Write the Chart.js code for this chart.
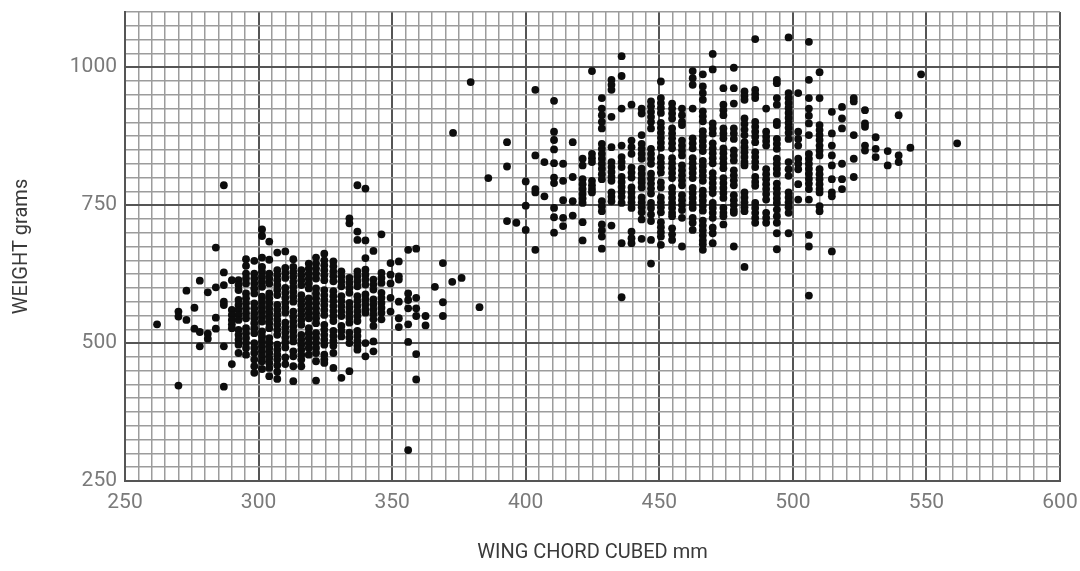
<!DOCTYPE html>
<html>
<head>
<meta charset="utf-8">
<title>Weight vs wing chord</title>
<script src="https://cdn.jsdelivr.net/npm/chart.js@4.4.1/dist/chart.umd.min.js"></script>
<style>
  body { margin: 0; background: #fff; }
  #wrap { width: 1080px; height: 571px; }
</style>
</head>
<body>
<div id="wrap"><canvas id="chart" width="1080" height="571"></canvas></div>
<script>
// tick labels shown on the axes
const xTickLabels = [250, 300, 350, 400, 450, 500, 550, 600];
const yTickLabels = [250, 500, 750, 1000];

// smaller birds: one chord value per column, weights
const smallChord = [262, 270, 273, 276, 278, 281, 284, 287, 290, 292.5, 295.3, 298.4, 301.3, 304, 307, 310, 313, 316, 318.8, 321.5, 324.6, 328, 331, 334, 337, 340, 343, 346, 349.4, 352.5, 356, 359, 362.5, 366, 369, 372.5, 376, 382.7];
const smallWeight = [
  [534],
  [557, 548, 423],
  [595, 542],
  [564, 526],
  [613, 520, 494],
  [592, 517, 508],
  [673, 601, 546, 526],
  [786, 628, 605, 575, 569, 494, 421],
  [614, 560, 551, 542, 534, 527, 462],
  [614, 605, 596, 578, 569, 560, 551, 542, 524, 515, 506, 497, 482],
  [652, 640, 626, 617, 608, 590, 581, 572, 563, 554, 545, 527, 518, 509, 500, 491, 479],
  [649, 626, 617, 608, 599, 590, 572, 563, 554, 545, 536, 527, 518, 500, 491, 482, 470, 458, 446],
  [706, 694, 655, 638, 629, 620, 611, 602, 584, 575, 566, 557, 548, 539, 521, 512, 503, 494, 485, 476, 467, 453],
  [684, 651, 626, 617, 608, 590, 581, 572, 563, 554, 545, 536, 527, 509, 500, 491, 482, 473, 464, 455, 440],
  [664, 632, 623, 614, 605, 596, 587, 569, 560, 551, 542, 533, 524, 515, 497, 488, 479, 470, 460, 448, 435],
  [666, 636, 627, 618, 600, 591, 582, 573, 564, 555, 537, 528, 519, 510, 501, 492, 474, 462],
  [652, 638, 629, 620, 611, 602, 593, 584, 575, 557, 548, 539, 530, 521, 512, 503, 485, 476, 458, 431],
  [632, 623, 614, 605, 587, 578, 569, 560, 551, 542, 533, 515, 506, 497, 488, 479, 470, 458],
  [644, 635, 626, 617, 608, 599, 581, 572, 563, 554, 545, 527, 518, 509, 500, 491, 479],
  [655, 644, 635, 626, 617, 599, 590, 581, 572, 563, 554, 545, 536, 518, 509, 500, 491, 482, 467, 432],
  [662, 650, 641, 632, 623, 614, 596, 587, 578, 569, 560, 551, 533, 524, 515, 506, 497, 479, 470, 464],
  [648, 639, 630, 621, 612, 594, 585, 576, 567, 558, 549, 540, 522, 513, 504, 495, 482, 455],
  [630, 621, 612, 603, 585, 576, 567, 558, 549, 531, 522, 512, 437],
  [726, 717, 618, 609, 600, 591, 573, 564, 555, 546, 537, 519, 510, 500, 449],
  [786, 702, 687, 630, 621, 612, 603, 585, 576, 567, 558, 549, 540, 522, 513, 504, 495, 488],
  [780, 686, 654, 633, 624, 615, 606, 588, 579, 570, 561, 555, 500, 476],
  [667, 615, 606, 597, 579, 570, 561, 552, 543, 531, 503, 485],
  [697, 627, 618, 609, 591, 582, 573, 564, 555, 543],
  [645, 624, 608, 582, 557],
  [648, 621, 615, 575, 545, 529],
  [669, 590, 578, 563, 534, 502, 306],
  [671, 582, 563, 549, 480, 434],
  [549, 532],
  [602],
  [645, 574, 549],
  [611],
  [618],
  [565]
];

// larger birds
const largeChord = [372.8, 379.4, 386, 393, 396.5, 400, 403.6, 407, 410.6, 414, 417.6, 421.3, 424.8, 428.5, 432.1, 435.9, 439.6, 443.4, 446.9, 450.6, 454.8, 458.5, 462.5, 466.3, 470, 474, 477.9, 481.9, 485.9, 490, 494, 498.4, 502, 506, 510, 514.6, 518.4, 522.8, 527, 531, 535.5, 539.6, 544, 548, 561.5];
const largeWeight = [
  [881],
  [973],
  [799],
  [864, 820, 721],
  [718],
  [793, 749, 705],
  [959, 840, 779, 773, 669],
  [828, 766],
  [939, 883, 868, 851, 826, 800, 790, 745, 728, 700],
  [825, 794, 759, 727, 712],
  [864, 801, 757, 731],
  [834, 822, 797, 788, 779, 770, 762, 754, 719, 686],
  [993, 843, 835, 828, 794, 786, 779, 773],
  [944, 925, 913, 901, 889, 861, 852, 843, 834, 825, 816, 806, 797, 757, 748, 739, 715, 704, 693, 671],
  [977, 968, 959, 910, 855, 828, 819, 810, 801, 794, 773, 765, 757, 713],
  [1020, 984, 925, 858, 837, 828, 819, 801, 792, 783, 774, 765, 754, 681, 583],
  [932, 867, 855, 843, 818, 809, 800, 782, 773, 764, 755, 745, 702, 690, 681],
  [925, 916, 877, 861, 852, 843, 834, 816, 807, 798, 791, 782, 764, 755, 746, 737, 724, 689],
  [938, 929, 919, 910, 901, 889, 852, 843, 834, 825, 807, 798, 789, 780, 771, 754, 745, 733, 721, 687, 644],
  [974, 944, 935, 926, 917, 899, 890, 881, 872, 863, 854, 836, 827, 818, 809, 791, 782, 764, 755, 746, 737, 719, 710, 701, 693, 678],
  [934, 925, 916, 907, 889, 880, 871, 862, 853, 835, 826, 817, 808, 799, 781, 772, 763, 754, 745, 736, 730, 708, 697, 687],
  [925, 913, 901, 895, 867, 858, 849, 840, 822, 813, 804, 795, 786, 768, 759, 750, 741, 727, 675],
  [993, 980, 968, 925, 871, 862, 853, 835, 826, 817, 808, 799, 781, 772, 763, 754, 745, 727, 718, 705],
  [987, 965, 953, 941, 920, 911, 902, 884, 875, 866, 857, 848, 830, 821, 812, 803, 794, 776, 767, 758, 749, 740, 722, 713, 704, 695, 686, 679, 669],
  [1024, 996, 898, 889, 880, 862, 853, 844, 835, 826, 808, 799, 790, 781, 772, 754, 745, 736, 727, 709, 699, 681],
  [962, 932, 922, 913, 889, 880, 871, 853, 844, 835, 826, 817, 799, 790, 781, 772, 763, 745, 736, 730, 715],
  [999, 962, 934, 889, 880, 870, 849, 840, 831, 813, 804, 795, 786, 768, 759, 750, 741, 736, 675],
  [956, 948, 941, 907, 897, 887, 877, 864, 855, 846, 837, 828, 822, 773, 764, 755, 746, 739, 638],
  [1051, 959, 951, 944, 901, 892, 883, 874, 864, 846, 837, 828, 819, 801, 792, 785, 754, 745, 736, 727, 718],
  [925, 883, 874, 866, 858, 815, 806, 797, 788, 779, 770, 760, 736, 727, 718],
  [977, 971, 944, 932, 901, 895, 870, 861, 852, 834, 825, 816, 807, 789, 780, 771, 762, 754, 742, 730, 718, 699, 670],
  [1054, 953, 944, 935, 926, 917, 908, 899, 890, 881, 870, 828, 815, 803, 773, 764, 755, 746, 736, 699],
  [953, 883, 870, 858, 834, 825, 815, 788, 760],
  [1046, 977, 944, 925, 912, 898, 877, 843, 834, 825, 816, 807, 798, 789, 779, 760, 696, 675, 586],
  [991, 944, 895, 886, 877, 868, 858, 849, 840, 815, 806, 797, 788, 779, 773, 748, 739],
  [919, 880, 858, 840, 822, 797, 773, 766, 666],
  [928, 907, 889, 825, 797, 779],
  [944, 938, 877, 834, 801],
  [922, 898, 892, 858, 849],
  [873, 852, 837],
  [848, 822],
  [913, 840, 828],
  [854],
  [987],
  [862]
];

function toPoints(chords, weights) {
  const pts = [];
  chords.forEach((x, i) => {
    weights[i].forEach((y) => pts.push({ x: x, y: y }));
  });
  return pts;
}

const majorX = (v) => v % 50 === 0;
const majorY = (v) => v % 250 === 0;

const tickFont = { family: "Roboto", size: 21 };
const titleFont = { family: "Roboto", size: 20 };

new Chart(document.getElementById("chart").getContext("2d"), {
  type: "scatter",
  data: {
    datasets: [
      {
        label: "small",
        data: toPoints(smallChord, smallWeight),
        backgroundColor: "#0d0d0d",
        borderWidth: 0,
        pointRadius: 3.9,
      },
      {
        label: "large",
        data: toPoints(largeChord, largeWeight),
        backgroundColor: "#0d0d0d",
        borderWidth: 0,
        pointRadius: 3.9,
      },
    ],
  },
  options: {
    responsive: false,
    animation: false,
    layout: { padding: { top: 12, right: 20, left: 0, bottom: 0 } },
    plugins: {
      legend: { display: false },
      tooltip: { enabled: false },
    },
    scales: {
      x: {
        type: "linear",
        min: 250,
        max: 600,
        afterFit: (s) => {
          s.height = 90;
          s.paddingLeft = 0;
          s.paddingRight = 0;
        },
        ticks: {
          stepSize: 5,
          maxTicksLimit: 200,
          autoSkip: false,
          maxRotation: 0,
          minRotation: 0,
          padding: 9,
          color: "#7a7a7a",
          font: tickFont,
          callback: (v) => (xTickLabels.includes(v) ? String(v) : ""),
        },
        grid: {
          drawTicks: false,
          color: (c) => (c.tick && majorX(c.tick.value) ? "#555" : "#9c9c9c"),
          lineWidth: (c) => (c.tick && majorX(c.tick.value) ? 2 : 1.5),
        },
        border: { display: true, color: "#555", width: 2 },
        title: {
          display: true,
          text: "WING CHORD CUBED mm",
          color: "#3a3a3a",
          font: titleFont,
          padding: { top: 0, bottom: 6 },
        },
      },
      y: {
        type: "linear",
        min: 250,
        max: 1100,
        afterFit: (s) => {
          s.width = 125;
          s.paddingTop = 0;
          s.paddingBottom = 0;
        },
        ticks: {
          stepSize: 25,
          maxTicksLimit: 200,
          autoSkip: false,
          padding: 8,
          color: "#7a7a7a",
          font: tickFont,
          callback: (v) => (yTickLabels.includes(v) ? String(v) : ""),
        },
        grid: {
          drawTicks: false,
          color: (c) => (c.tick && majorY(c.tick.value) ? "#555" : "#9c9c9c"),
          lineWidth: (c) => (c.tick && majorY(c.tick.value) ? 2 : 1.5),
        },
        border: { display: true, color: "#555", width: 2 },
        title: {
          display: true,
          text: "WEIGHT grams",
          color: "#3a3a3a",
          font: titleFont,
          padding: { top: 10, bottom: 0 },
        },
      },
    },
  },
});
</script>
</body>
</html>
